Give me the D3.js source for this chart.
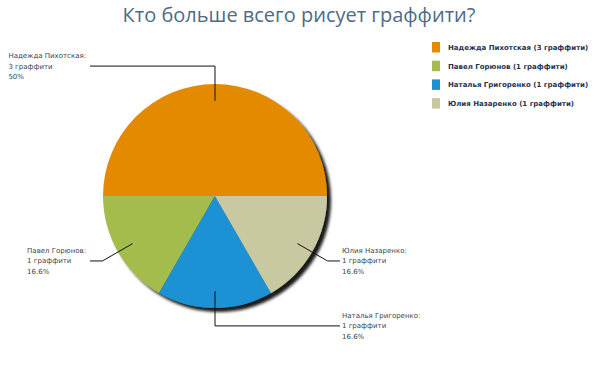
<!DOCTYPE html>
<html>
<head>
<meta charset="utf-8">
<script src="https://cdn.jsdelivr.net/npm/d3@7"></script>
<style>
body { margin: 0; background: #fff; }
svg { display: block; }
</style>
</head>
<body>
<div id="chart"></div>
<script>
// данные
var names = ["Надежда Пихотская", "Павел Горюнов", "Наталья Григоренко", "Юлия Назаренко"];
var counts = [3, 1, 1, 1];
var percents = ["50%", "16.6%", "16.6%", "16.6%"];
var colors = ["#e38a00", "#a3bc4c", "#1c91d4", "#c8c9a0"];
var title = "Кто больше всего рисует граффити?";

var W = 604, H = 378;
var cx = 215, cy = 196, R = 112;

var svg = d3.select("#chart").append("svg").attr("width", W).attr("height", H);

var defs = svg.append("defs");
var f = defs.append("filter").attr("id", "shadow").attr("x", "-20%").attr("y", "-20%").attr("width", "140%").attr("height", "140%");
f.append("feDropShadow").attr("dx", 4).attr("dy", 4).attr("stdDeviation", 1.6)
  .attr("flood-color", "#000").attr("flood-opacity", 0.9);

svg.append("text")
  .attr("x", 299).attr("y", 22)
  .attr("text-anchor", "middle")
  .style("font-family", "'Open Sans', sans-serif")
  .style("font-size", "20px")
  .style("fill", "#4e6b88")
  .text(title);

var data = names.map(function(n, i){ return {name: n, count: counts[i], pct: percents[i], color: colors[i]}; });

// против часовой стрелки от "3 часов"
var pie = d3.pie().sort(null).value(function(d){ return d.count; })
  .startAngle(Math.PI / 2).endAngle(Math.PI / 2 - 2 * Math.PI);
var arcs = pie(data);

var arc = d3.arc().innerRadius(0).outerRadius(R);
var labelArc = d3.arc().innerRadius(R * 0.85).outerRadius(R * 0.85);
var elbowArc = d3.arc().innerRadius(R * 1.16).outerRadius(R * 1.16);

var g = svg.append("g").attr("transform", "translate(" + cx + "," + cy + ")");

g.append("g").attr("filter", "url(#shadow)")
  .selectAll("path").data(arcs).enter().append("path")
  .attr("d", arc)
  .attr("fill", function(d){ return d.data.color; });

function side(d) {
  var m = (d.startAngle + d.endAngle) / 2;
  var s = Math.sin(m);
  if (Math.abs(s) > 1e-6) return s > 0 ? 1 : -1;
  return Math.cos(m) > 0 ? -1 : 1;
}

var lab = svg.append("g").attr("class", "labels");
arcs.forEach(function(d){
  var p1 = labelArc.centroid(d), p2 = elbowArc.centroid(d);
  var s = side(d);
  var x1 = cx + p1[0], y1 = cy + p1[1];
  var x2 = cx + p2[0], y2 = cy + p2[1];
  var x3 = cx + s * 125;
  lab.append("polyline")
    .attr("points", [[x1, y1], [x2, y2], [x3, y2]].map(function(p){ return p.join(","); }).join(" "))
    .attr("fill", "none").attr("stroke", "#111").attr("stroke-width", 1);

  var t = lab.append("text")
    .style("font-family", "'DejaVu Sans', sans-serif")
    .style("font-size", "7px")
    .style("fill", "#3a4450");
  var lines = [d.data.name + ":", d.data.count + " граффити", d.data.pct];
  lines.forEach(function(l, i){
    t.append("tspan").attr("x", 0).attr("y", (i - 1) * 10.5 + 2.5).text(l);
  });
  var w = t.node().getBBox().width;
  var tx = s > 0 ? x3 + 2 : x3 - 4 - w;
  t.attr("transform", "translate(" + tx + "," + y2 + ")");
});

// легенда
var leg = svg.append("g").attr("transform", "translate(432,42)");
var row = leg.selectAll("g").data(data).enter().append("g")
  .attr("transform", function(d, i){ return "translate(0," + (i * 18.7) + ")"; });
row.append("rect").attr("width", 8).attr("height", 10.5)
  .attr("fill", function(d){ return d.color; });
row.append("text")
  .attr("x", 16).attr("y", 8)
  .style("font-family", "'DejaVu Sans', sans-serif")
  .style("font-size", "7px")
  .style("font-weight", "bold")
  .style("fill", "#1f3550")
  .text(function(d){ return d.name + " (" + d.count + " граффити)"; });
</script>
</body>
</html>
